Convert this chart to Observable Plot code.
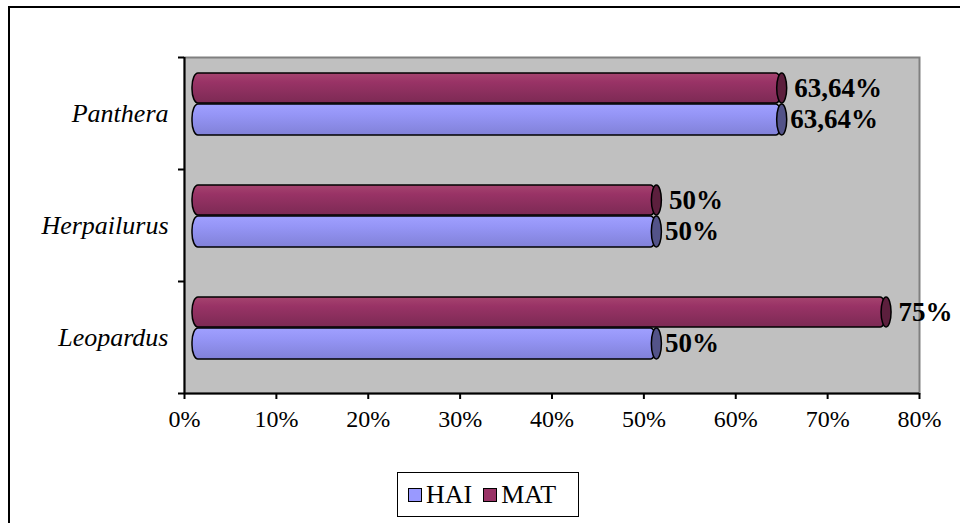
<!DOCTYPE html>
<html>
<head>
<meta charset="utf-8">
<script src="https://cdn.jsdelivr.net/npm/d3@7"></script>
<script src="https://cdn.jsdelivr.net/npm/@observablehq/plot@0.6"></script>
<style>
  html, body { margin: 0; padding: 0; background: #fff; width: 960px; height: 523px; overflow: hidden; position: relative; font-family: "Liberation Serif", "Times New Roman", serif; }
  #frame { position: absolute; left: 8px; top: 6px; width: 1000px; height: 600px; border-left: 2px solid #000; border-top: 2px solid #000; box-shadow: -1px -1px 0 #999 inset; }
  #chart { position: absolute; left: 0; top: 0; }
  #legend { position: absolute; left: 397px; top: 472px; width: 180px; height: 43px; border: 1.5px solid #000; background: #fff; display: flex; align-items: center; justify-content: flex-start; box-sizing: content-box; padding-left: 0; font-size: 26px; color: #000; font-family: "Liberation Serif", serif; }
  .item { display: flex; align-items: center; gap: 4px; margin-left: 10px; }
  .item + .item { margin-left: 11px; }
  .sw { width: 12px; height: 12px; border: 1.5px solid #000; display: inline-block; }
</style>
</head>
<body>
<div id="frame"></div>
<div id="chart"></div>
<div id="legend"></div>
<script>
const genus = ["Panthera", "Herpailurus", "Leopardus"];
const seriesNames = ["HAI", "MAT"];
const haiValues = [63.64, 50, 50];
const matValues = [63.64, 50, 75];
const haiLabels = ["63,64%", "50%", "50%"];
const matLabels = ["63,64%", "50%", "75%"];
const xTicks = [0, 10, 20, 30, 40, 50, 60, 70, 80];
const colors = { HAI: "#9999ff", MAT: "#993366" };

const haiRows = genus.map((g, i) => ({ genus: g, series: "HAI", value: haiValues[i], label: haiLabels[i] }));
const matRows = genus.map((g, i) => ({ genus: g, series: "MAT", value: matValues[i], label: matLabels[i] }));

const barStyle = { stroke: "#000", strokeWidth: 1.5, rx: 6, ry: 14, dx: 8, insetRight: -5 };
const capStyle = { stroke: "#000", strokeWidth: 1.5, rx: 5, ry: 15, dx: 8, insetLeft: 0, insetRight: -10 };
const serif = "Liberation Serif, Times New Roman, serif";

const svg = Plot.plot({
  width: 960,
  height: 465,
  marginLeft: 184,
  marginRight: 41,
  marginTop: 57,
  marginBottom: 72,
  style: { fontFamily: serif, fontSize: "24px", color: "#000", background: "transparent" },
  x: { domain: [0, 80], label: null },
  y: { domain: genus, padding: 0, label: null },
  marks: [
    Plot.frame({ fill: "#c0c0c0", stroke: "#808080", strokeWidth: 2 }),
    // MAT bars
    Plot.barX(matRows, { x: "value", y: "genus", fill: "url(#gMAT)", insetTop: 16, insetBottom: 66, ...barStyle }),
    Plot.barX(matRows, { x1: "value", x2: "value", y: "genus", fill: "#5c1f3d", insetTop: 16, insetBottom: 66, ...capStyle }),
    // HAI bars
    Plot.barX(haiRows, { x: "value", y: "genus", fill: "url(#gHAI)", insetTop: 47, insetBottom: 34, ...barStyle }),
    Plot.barX(haiRows, { x1: "value", x2: "value", y: "genus", fill: "#535388", insetTop: 47, insetBottom: 34, ...capStyle }),
    // labels
    Plot.text(matRows, { x: "value", y: "genus", text: "label", dx: 25, dy: -25, textAnchor: "start", fontWeight: "bold", fontSize: 27, fontFamily: serif, fill: "#000" }),
    Plot.text(haiRows, { x: "value", y: "genus", text: "label", dx: 21, dy: 6, textAnchor: "start", fontWeight: "bold", fontSize: 27, fontFamily: serif, fill: "#000" }),
    // axes lines
    Plot.ruleX([0], { stroke: "#000", strokeWidth: 2 }),
    Plot.ruleY(genus, { y: d => d, dy: -56, x1: 0, x2: 0, insetLeft: -6, stroke: "#000", strokeWidth: 2 }),
    Plot.ruleY([genus[genus.length - 1]], { y: d => d, dy: 56, x1: 0, x2: 80, insetLeft: -6, stroke: "#000", strokeWidth: 2 }),
    Plot.axisX({ ticks: xTicks, tickFormat: d => d + "%", tickSize: 6, tickPadding: 10, strokeWidth: 2, fontSize: 24, fontFamily: serif, label: null }),
    Plot.axisY({ tickSize: 0, tickPadding: 16, fontStyle: "italic", fontSize: 26, fontFamily: serif, label: null })
  ]
});

const defs = d3.select(svg).insert("defs", ":first-child");
const grads = {
  gMAT: [["0%", "#a6446f"], ["30%", "#993366"], ["100%", "#7c2a54"]],
  gHAI: [["0%", "#a0a0ff"], ["35%", "#9595f6"], ["100%", "#8181d8"]]
};
for (const [id, stops] of Object.entries(grads)) {
  const g = defs.append("linearGradient").attr("id", id).attr("x1", 0).attr("y1", 0).attr("x2", 0).attr("y2", 1);
  for (const [o, c] of stops) g.append("stop").attr("offset", o).attr("stop-color", c);
}
document.getElementById("chart").appendChild(svg);

const legend = document.getElementById("legend");
for (const s of seriesNames) {
  const item = document.createElement("span");
  item.className = "item";
  const sw = document.createElement("span");
  sw.className = "sw";
  sw.style.background = colors[s];
  const t = document.createElement("span");
  t.textContent = s;
  item.appendChild(sw);
  item.appendChild(t);
  legend.appendChild(item);
}
</script>
</body>
</html>
